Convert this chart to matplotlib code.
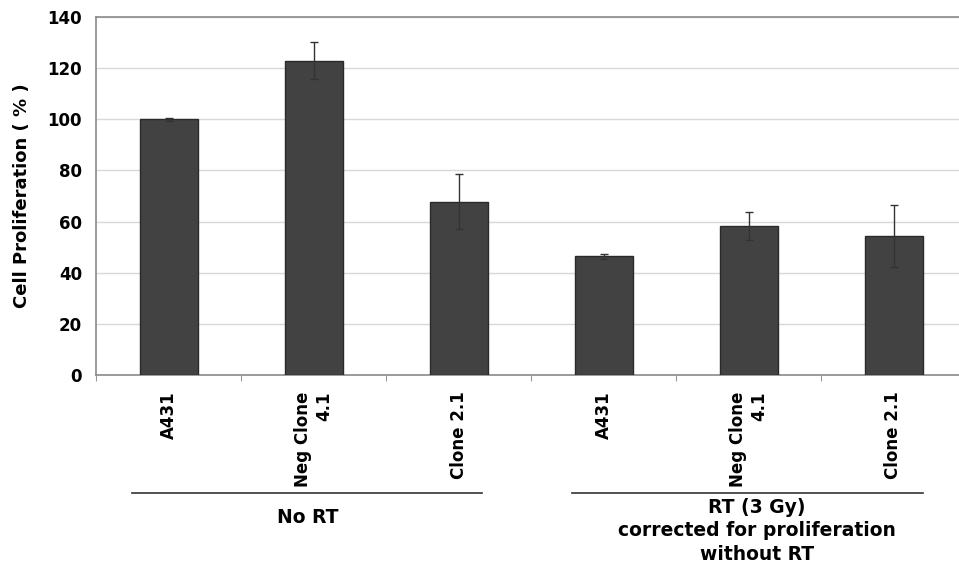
import matplotlib
matplotlib.use("Agg")
import matplotlib.pyplot as plt
from matplotlib.transforms import blended_transform_factory

categories = ["A431", "Neg Clone\n4.1", "Clone 2.1", "A431", "Neg Clone\n4.1", "Clone 2.1"]
values = [100.0, 122.9, 67.8, 46.4, 58.3, 54.4]
errors = [0.5, 7.2, 10.8, 1.0, 5.6, 12.0]
group_labels = ["No RT", "RT (3 Gy)\ncorrected for proliferation\nwithout RT"]
y_ticks = [0, 20, 40, 60, 80, 100, 120, 140]

plt.rcParams['font.family'] = ['DejaVu Sans']
fig = plt.figure(figsize=(9.59, 5.66), dpi=100)
ax = fig.add_axes([96/959, 191/566, 870/959, 358/566])

x = list(range(len(categories)))
ax.bar(x, values, width=0.4, color="#424242", edgecolor="#2a2a2a", linewidth=1.0, zorder=3)
ax.errorbar(x, values, yerr=errors, fmt="none", ecolor="#333333", elinewidth=1.0,
            capsize=3, capthick=1.0, zorder=4)

ax.set_xlim(-0.5, len(categories) - 0.5)
ax.set_ylim(0, 140)
ax.set_yticks(y_ticks)
ax.set_yticklabels([str(v) for v in y_ticks], fontsize=12, fontweight="bold")
ax.yaxis.grid(True, color="#d8d8d8", linewidth=1.0, zorder=0)
ax.set_axisbelow(True)
ax.tick_params(axis="y", length=0, pad=10)

ax.set_xticks([i + 0.5 for i in range(-1, len(categories))], minor=False)
ax.set_xticklabels([])
ax.tick_params(axis="x", which="major", length=4, color="#999999", direction="out")
ax.set_xticks(x, minor=True)
ax.set_xticklabels(categories, minor=True, rotation=90, fontsize=12, fontweight="bold",
                   va="top", ha="center", multialignment="right")
ax.tick_params(axis="x", which="minor", length=0, pad=12)

for s in ["left", "top", "bottom"]:
    ax.spines[s].set_color("#8a8a8a")
    ax.spines[s].set_linewidth(1.2)
ax.spines["right"].set_visible(False)

ax.set_ylabel("Cell Proliferation ( % )", fontsize=13, fontweight="bold", labelpad=12)

tr = blended_transform_factory(ax.transData, ax.transAxes)
ax.plot([-0.25, 2.16], [-0.329, -0.329], transform=tr, color="#333333", lw=1.2, clip_on=False)
ax.plot([2.78, 5.2], [-0.329, -0.329], transform=tr, color="#333333", lw=1.2, clip_on=False)
ax.text(0.96, -0.397, group_labels[0], transform=tr, ha="center", va="center",
        fontsize=13.5, fontweight="bold")
ax.text(4.06, -0.343, group_labels[1], transform=tr, ha="center", va="top",
        fontsize=13.5, fontweight="bold", linespacing=1.3)

fig.savefig("out.png", dpi=100)
